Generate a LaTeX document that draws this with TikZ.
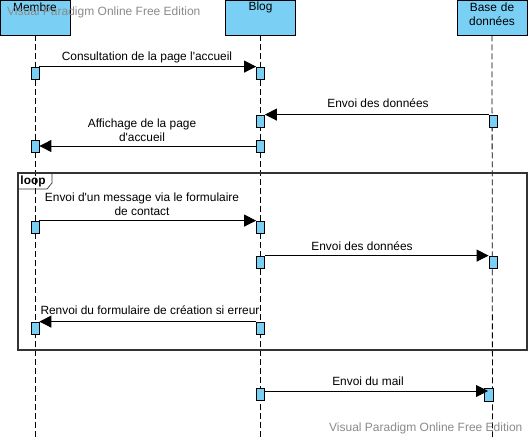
\documentclass[tikz,border=0pt]{standalone}
\usepackage{fontspec}
\setmainfont{Liberation Sans}
\usetikzlibrary{arrows.meta}
\definecolor{actblue}{HTML}{7ACFF5}
\definecolor{wmgray}{HTML}{8A8A8A}
\definecolor{framegray}{HTML}{333333}
\begin{document}
\begin{tikzpicture}[x=1pt,y=-1pt,
  font=\fontsize{11.9}{13}\selectfont,
  headbox/.style={draw=black, line width=0.9pt, fill=actblue, minimum width=70pt, minimum height=35pt, inner sep=0pt},
  headtxt/.style={inner sep=0pt, align=center},
  life/.style={draw=black, line width=0.8pt, dash pattern=on 6pt off 3pt},
  actbox/.style={draw=black, line width=0.8pt, fill=actblue, minimum width=8pt, minimum height=12pt, inner sep=0pt},
  msg/.style={draw=black, line width=0.9pt, -{Triangle[length=12pt,width=12pt]}},
  lbl/.style={inner sep=0pt, align=center},
  wm/.style={text=wmgray, inner sep=0pt, font=\fontsize{12}{14}\selectfont}
]
\useasboundingbox (0,0) rectangle (528,437);

% header boxes
\node[headbox] (mh) at (35,17.5) {};
\node[headbox] (bh) at (260.5,17.5) {};
\node[headbox] (dh) at (492,17.5) {};
\node[headtxt] (mht) at (35,7) {Membre};
\node[headtxt] (bht) at (260.5,7) {Blog};
\node[headtxt, text width=70pt, font=\fontsize{11.9}{14}\selectfont] (dht) at (492,14) {Base de\\données};

% lifelines
\coordinate (mend) at (35,437);
\coordinate (bend) at (260.5,437);
\coordinate (dend) at (492.5,437);
\draw[life] (mh.south) -- (mend);
\draw[life] (bh.south) -- (bend);
\draw[life] (dh.south) -- (dend);

% loop frame
\coordinate (fr1) at (18,173);
\coordinate (fr2) at (527,350);
\draw[framegray, line width=1.4pt] (fr1) rectangle (fr2);
\coordinate (t1) at (52,173);
\coordinate (t2) at (52,183);
\coordinate (t3) at (47,189);
\coordinate (t4) at (18,189);
\draw[framegray, line width=0.7pt] (t1) -- (t2) -- (t3) -- (t4);
\node[inner sep=0pt, font=\bfseries\fontsize{11.9}{13}\selectfont] (looplbl) at (33,181) {loop};

% activations
\node[actbox] (m1) at (35,73) {};
\node[actbox] (b1) at (260.5,73) {};
\node[actbox] (b2) at (260.5,121) {};
\node[actbox] (d2) at (493,121) {};
\node[actbox] (b3) at (260.5,146) {};
\node[actbox] (m3) at (35,146.5) {};
\node[actbox] (m4) at (35,227) {};
\node[actbox] (b4) at (260.5,227) {};
\node[actbox] (b5) at (260.5,262) {};
\node[actbox] (d5) at (493,262) {};
\node[actbox] (b6) at (260.5,328) {};
\node[actbox] (m6) at (35,328) {};
\node[actbox] (b7) at (260.5,394) {};
\node[actbox, minimum width=9pt, minimum height=13pt] (d7) at (488.5,394.5) {};
\coordinate (d7in) at (488,391);

% messages
\draw[msg] (m1.north east) -- (b1.north west);
\node[lbl] (l1) at (147,57) {Consultation de la page l\textquotesingle accueil};
\draw[msg] (d2.north west) -- (b2.north east);
\node[lbl] (l2) at (378,103) {Envoi des données};
\draw[msg] (b3.west) -- (m3.east |- b3.west);
\node[lbl, font=\fontsize{11.9}{14}\selectfont] (l3) at (142,130) {Affichage de la page\\d\textquotesingle accueil};
\draw[msg] (m4.north east) -- (b4.north west);
\node[lbl, font=\fontsize{11.9}{14}\selectfont] (l4) at (142,204) {Envoi d\textquotesingle un message via le formulaire\\de contact};
\draw[msg] (b5.north east) -- (d5.north west);
\node[lbl] (l5) at (362,246) {Envoi des données};
\draw[msg] (b6.north west) -- (m6.north east);
\node[lbl] (l6) at (150,310) {Renvoi du formulaire de création si erreur};
\draw[msg] (b7.east |- d7in) -- (d7in);
\node[lbl] (l7) at (368,381) {Envoi du mail};

% watermarks
\node[wm, anchor=west] (wm1) at (7,12) {Visual Paradigm Online Free Edition};
\node[wm, anchor=west] (wm2) at (329,428) {Visual Paradigm Online Free Edition};
\end{tikzpicture}
\end{document}
